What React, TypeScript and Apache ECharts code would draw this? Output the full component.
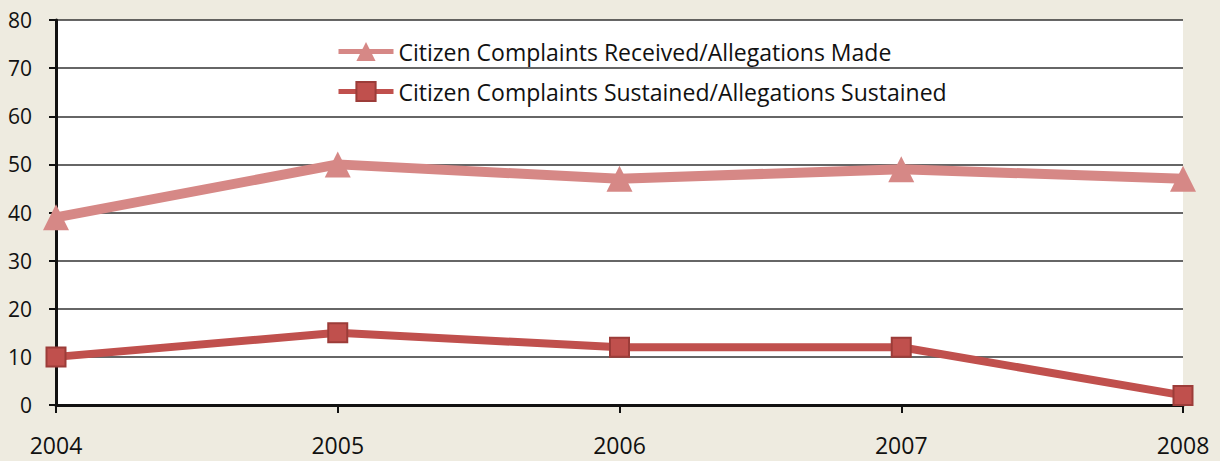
import React, { useEffect, useRef } from "react";
import * as echarts from "echarts";

const years = ["2004", "2005", "2006", "2007", "2008"];
const received = [39, 50, 47, 49, 47];
const sustained = [10, 15, 12, 12, 2];
const seriesNames = [
  "Citizen Complaints Received/Allegations Made",
  "Citizen Complaints Sustained/Allegations Sustained",
];

export default function App() {
  const ref = useRef<HTMLDivElement>(null);
  useEffect(() => {
    document.body.style.margin = "0";
    if (!ref.current) return;
    const chart = echarts.init(ref.current, null, { renderer: "svg" });
    const font = "'Open Sans', Lato, sans-serif";
    chart.setOption({
      animation: false,
      backgroundColor: "#eeebe0",
      textStyle: { fontFamily: font },
      grid: {
        left: 56,
        right: 37,
        top: 20,
        bottom: 56,
        show: true,
        backgroundColor: "#ffffff",
        borderWidth: 0,
      },
      legend: {
        orient: "vertical",
        left: 331,
        top: 35,
        itemWidth: 55,
        itemHeight: 24,
        itemGap: 17,
        lineStyle: { width: 5 },
        textStyle: { fontSize: 23, color: "#111", fontFamily: font },
        data: seriesNames,
      },
      xAxis: {
        type: "category",
        data: years,
        boundaryGap: false,
        axisLine: { lineStyle: { color: "#111", width: 3 } },
        axisTick: { show: true, length: 8, lineStyle: { color: "#111", width: 2 }, alignWithLabel: true },
        axisLabel: { fontSize: 23, color: "#111", margin: 28, fontFamily: font },
        splitLine: { show: false },
      },
      yAxis: {
        type: "value",
        min: 0,
        max: 80,
        interval: 10,
        axisLine: { show: true, lineStyle: { color: "#111", width: 3 } },
        axisTick: { show: true, length: 7, lineStyle: { color: "#111", width: 2 } },
        axisLabel: { fontSize: 21, color: "#111", margin: 24, fontFamily: font },
        splitLine: { show: true, lineStyle: { color: "#333", width: 1.5 } },
      },
      series: [
        {
          name: seriesNames[0],
          type: "line",
          data: received,
          symbol: "triangle",
          symbolSize: 26,
          lineStyle: { color: "#d68886", width: 10 },
          itemStyle: { color: "#d68886" },
          z: 3,
        },
        {
          name: seriesNames[1],
          type: "line",
          data: sustained,
          symbol: "rect",
          symbolSize: 19,
          lineStyle: { color: "#c0504d", width: 8 },
          itemStyle: { color: "#c0504d", borderColor: "#9c3c39", borderWidth: 2 },
          z: 4,
        },
      ],
    });
    return () => chart.dispose();
  }, []);
  return <div ref={ref} style={{ width: 1220, height: 461 }} />;
}
